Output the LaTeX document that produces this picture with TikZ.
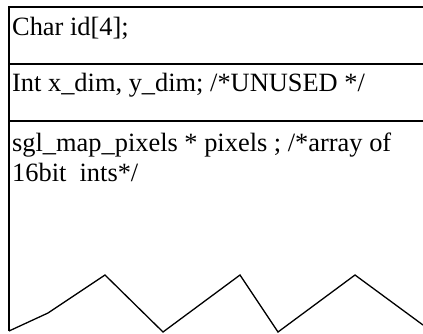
\documentclass[tikz,border=0pt]{standalone}
\usepackage{fontspec}
\setmainfont{Liberation Serif}
\usetikzlibrary{positioning}

\begin{document}
\begin{tikzpicture}[x=1pt, y=-1pt, line width=1.3pt, font=\fontsize{26.4}{30}\selectfont,
  field/.style={anchor=base west, inner sep=0pt, align=left}]
\useasboundingbox (0,0) rectangle (423,333);
\coordinate (tl) at (9,7);
\coordinate (tr) at (423,7);
\coordinate (bl) at (9,331);
\draw (tr) -- (tl) -- (bl);
\draw (9,64) -- (423,64);
\draw (9,121) -- (423,121);
\node[field] (id) at (11.5,35.5) {Char id[4];};
\node[field] (dim) at (11.5,91.5) {Int x\_dim, y\_dim; /*UNUSED */};
\node[field] (pix) at (11.5,181.5) {sgl\_map\_pixels * pixels ; /*array of\\16bit~ ints*/};
% torn bottom edge
\draw (bl) -- (48,313) -- (105,275) -- (163,332) -- (240,275) -- (278,332) -- (355,275) -- (423,325);
\end{tikzpicture}
\end{document}
